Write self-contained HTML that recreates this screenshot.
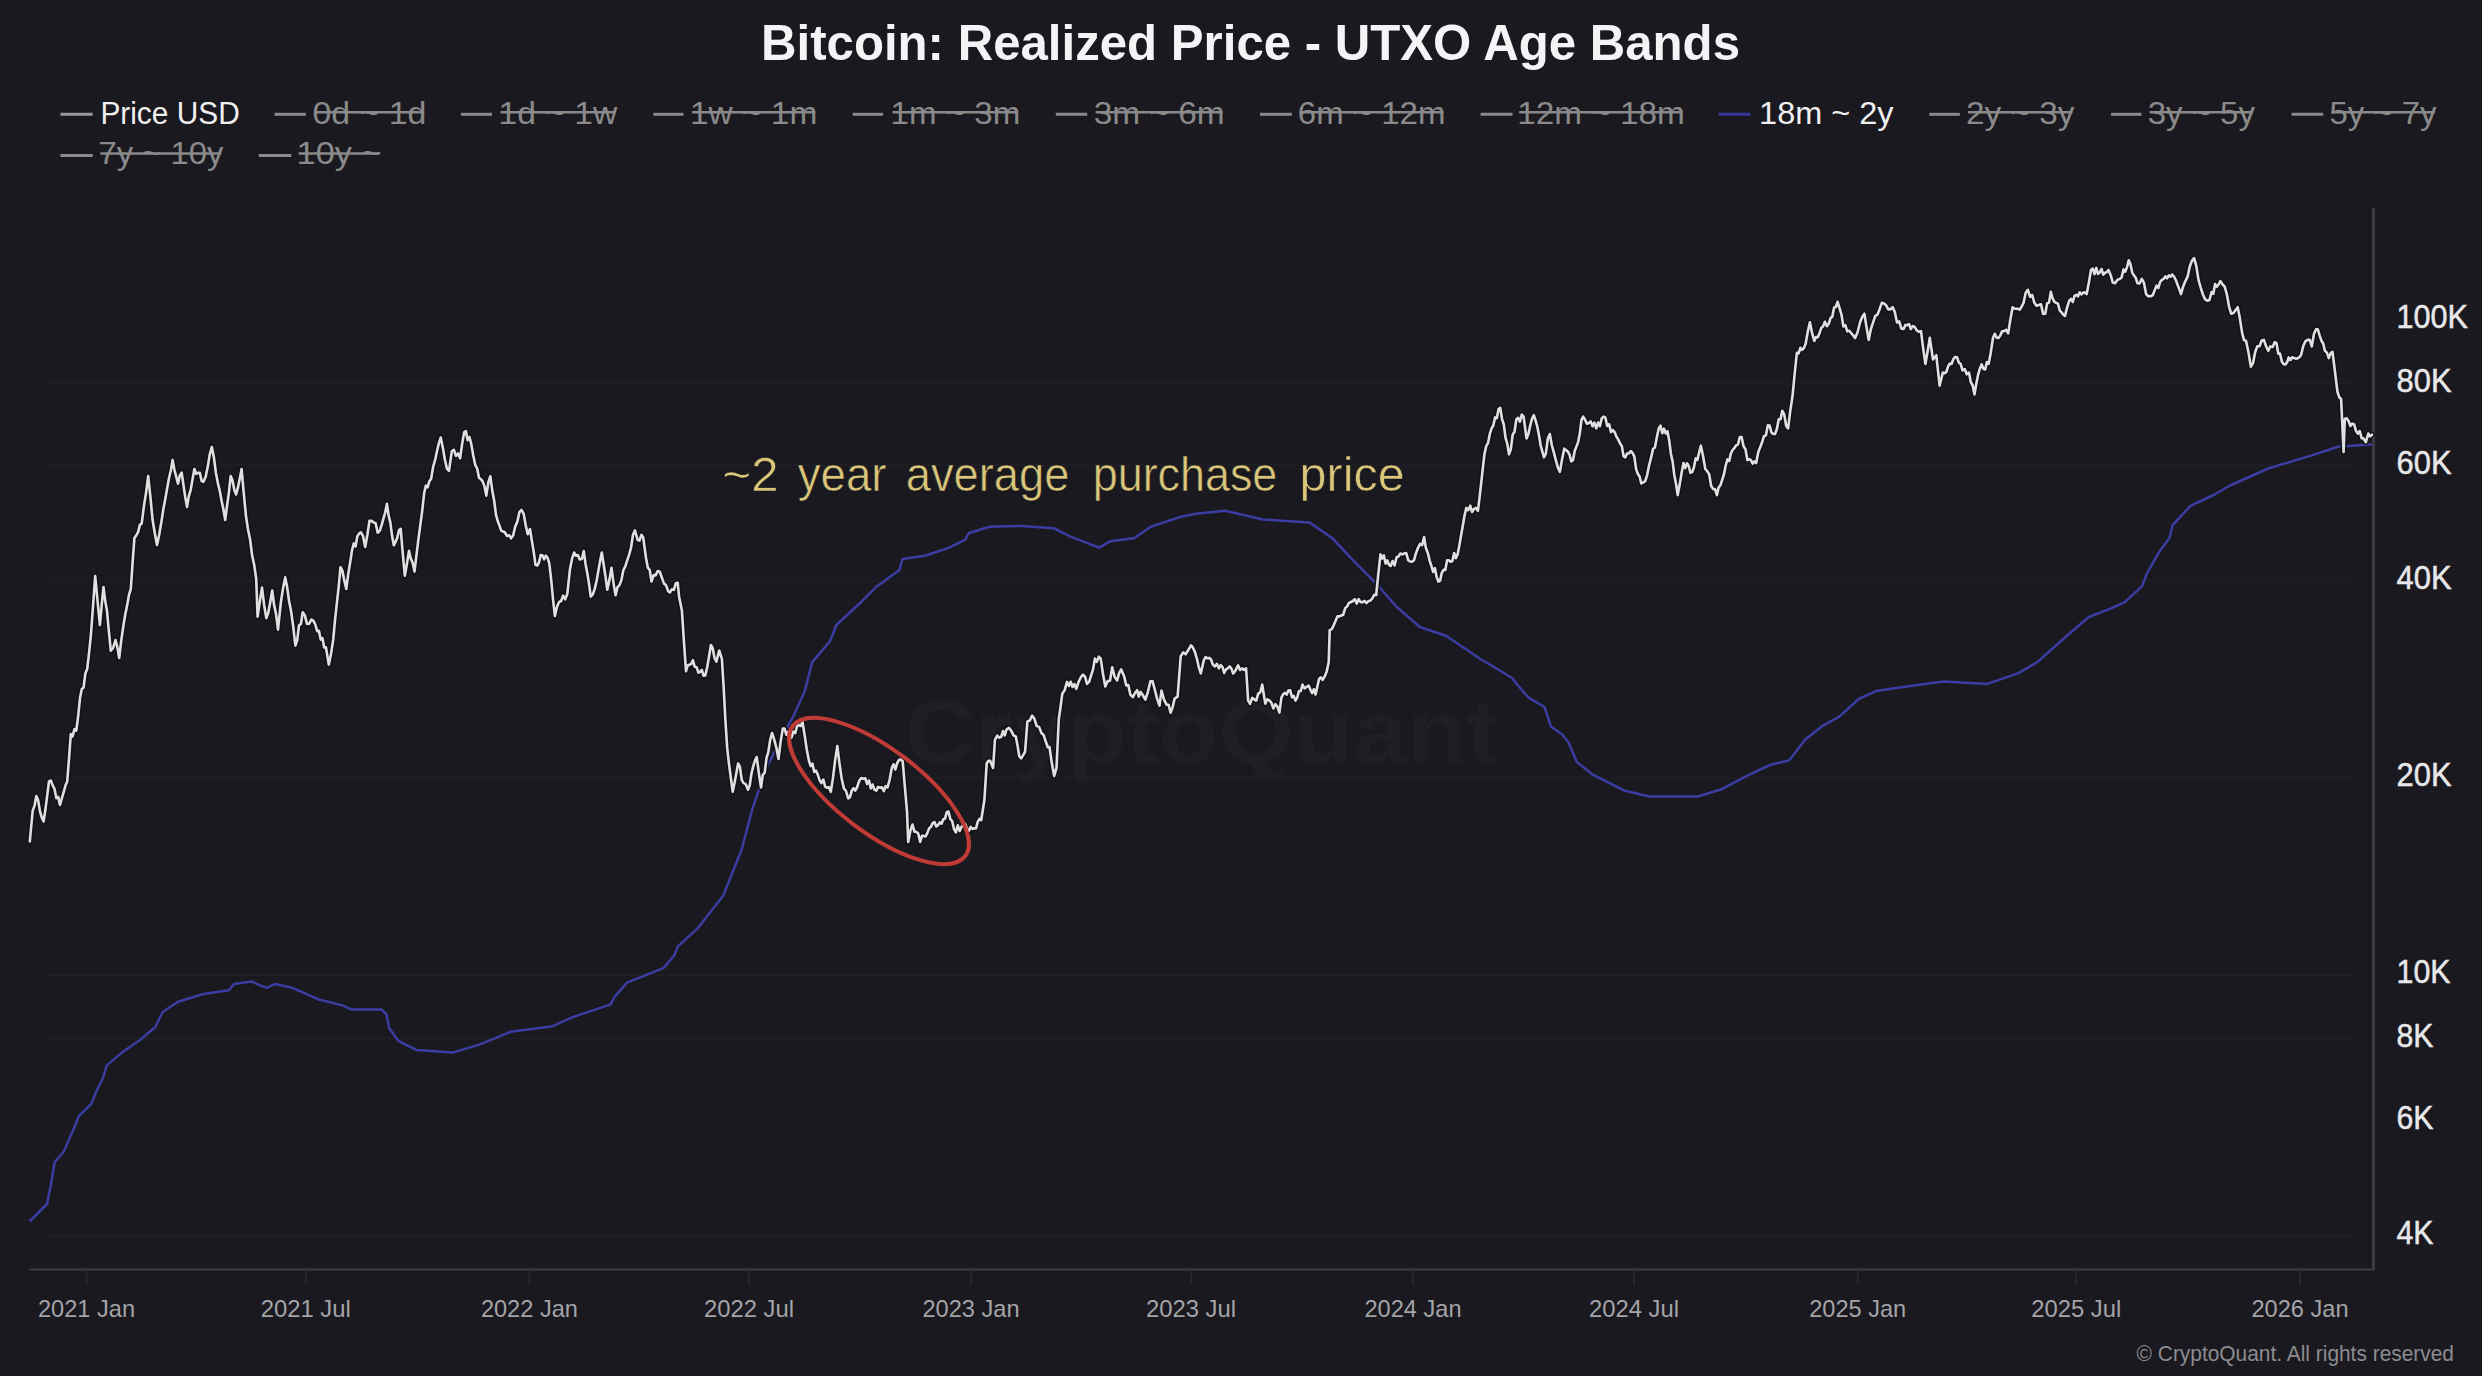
<!DOCTYPE html>
<html><head><meta charset="utf-8">
<style>
html,body{margin:0;padding:0;background:#1a191f;}
body{width:2482px;height:1376px;overflow:hidden;}
svg{display:block;}
text{font-family:"Liberation Sans",sans-serif;}
.title{font-weight:bold;font-size:50px;fill:#f4f4f6;}
.lon{font-size:31px;fill:#f0f0f0;}
.loff{font-size:31px;fill:#8a8a8a;}
.ax{font-size:24px;fill:#a4a4a8;}
.ay{font-size:34px;fill:#e8e8ea;stroke:#e8e8ea;stroke-width:0.5px;}
.ann{font-size:48px;fill:#d9c67a;stroke:#16151a;stroke-width:0.6px;}
.copy{font-size:22px;fill:#8c8c90;}
</style></head>
<body>
<svg width="2482" height="1376" viewBox="0 0 2482 1376">
<rect width="2482" height="1376" fill="#1a191f"/>
<line x1="45" y1="1235.7" x2="2352" y2="1235.7" stroke="#1f1e24" stroke-width="2"/>
<line x1="45" y1="1120.3" x2="2352" y2="1120.3" stroke="#1f1e24" stroke-width="2"/>
<line x1="45" y1="1038.5" x2="2352" y2="1038.5" stroke="#1f1e24" stroke-width="2"/>
<line x1="45" y1="975.0" x2="2352" y2="975.0" stroke="#1f1e24" stroke-width="2"/>
<line x1="45" y1="777.8" x2="2352" y2="777.8" stroke="#1f1e24" stroke-width="2"/>
<line x1="45" y1="580.7" x2="2352" y2="580.7" stroke="#1f1e24" stroke-width="2"/>
<line x1="45" y1="465.3" x2="2352" y2="465.3" stroke="#1f1e24" stroke-width="2"/>
<line x1="45" y1="383.5" x2="2352" y2="383.5" stroke="#1f1e24" stroke-width="2"/>
<line x1="45" y1="320.0" x2="2352" y2="320.0" stroke="#1f1e24" stroke-width="2"/>

<text x="905" y="763" font-size="90" font-weight="bold" fill="#1f1e24" textLength="594" lengthAdjust="spacingAndGlyphs">CryptoQuant</text>
<line x1="29" y1="1269.5" x2="2373" y2="1269.5" stroke="#3c3c42" stroke-width="2"/>
<line x1="2373.5" y1="208" x2="2373.5" y2="1270" stroke="#3c3c42" stroke-width="3"/>
<line x1="86.5" y1="1270" x2="86.5" y2="1285" stroke="#26262c" stroke-width="2"/>
<text x="38.0" y="1317" class="ax" textLength="97" lengthAdjust="spacingAndGlyphs">2021 Jan</text>
<line x1="305.8" y1="1270" x2="305.8" y2="1285" stroke="#26262c" stroke-width="2"/>
<text x="260.8" y="1317" class="ax" textLength="90" lengthAdjust="spacingAndGlyphs">2021 Jul</text>
<line x1="529.4" y1="1270" x2="529.4" y2="1285" stroke="#26262c" stroke-width="2"/>
<text x="480.9" y="1317" class="ax" textLength="97" lengthAdjust="spacingAndGlyphs">2022 Jan</text>
<line x1="749" y1="1270" x2="749" y2="1285" stroke="#26262c" stroke-width="2"/>
<text x="704.0" y="1317" class="ax" textLength="90" lengthAdjust="spacingAndGlyphs">2022 Jul</text>
<line x1="971" y1="1270" x2="971" y2="1285" stroke="#26262c" stroke-width="2"/>
<text x="922.5" y="1317" class="ax" textLength="97" lengthAdjust="spacingAndGlyphs">2023 Jan</text>
<line x1="1191" y1="1270" x2="1191" y2="1285" stroke="#26262c" stroke-width="2"/>
<text x="1146.0" y="1317" class="ax" textLength="90" lengthAdjust="spacingAndGlyphs">2023 Jul</text>
<line x1="1413" y1="1270" x2="1413" y2="1285" stroke="#26262c" stroke-width="2"/>
<text x="1364.5" y="1317" class="ax" textLength="97" lengthAdjust="spacingAndGlyphs">2024 Jan</text>
<line x1="1634" y1="1270" x2="1634" y2="1285" stroke="#26262c" stroke-width="2"/>
<text x="1589.0" y="1317" class="ax" textLength="90" lengthAdjust="spacingAndGlyphs">2024 Jul</text>
<line x1="1857.7" y1="1270" x2="1857.7" y2="1285" stroke="#26262c" stroke-width="2"/>
<text x="1809.2" y="1317" class="ax" textLength="97" lengthAdjust="spacingAndGlyphs">2025 Jan</text>
<line x1="2076.2" y1="1270" x2="2076.2" y2="1285" stroke="#26262c" stroke-width="2"/>
<text x="2031.2" y="1317" class="ax" textLength="90" lengthAdjust="spacingAndGlyphs">2025 Jul</text>
<line x1="2300" y1="1270" x2="2300" y2="1285" stroke="#26262c" stroke-width="2"/>
<text x="2251.5" y="1317" class="ax" textLength="97" lengthAdjust="spacingAndGlyphs">2026 Jan</text>

<text x="2396.5" y="328.3" class="ay" textLength="71.5" lengthAdjust="spacingAndGlyphs">100K</text>
<text x="2396.5" y="391.8" class="ay" textLength="55" lengthAdjust="spacingAndGlyphs">80K</text>
<text x="2396.5" y="473.6" class="ay" textLength="55" lengthAdjust="spacingAndGlyphs">60K</text>
<text x="2396.5" y="589.0" class="ay" textLength="55" lengthAdjust="spacingAndGlyphs">40K</text>
<text x="2396.5" y="786.1" class="ay" textLength="55" lengthAdjust="spacingAndGlyphs">20K</text>
<text x="2396.5" y="983.3" class="ay" textLength="54" lengthAdjust="spacingAndGlyphs">10K</text>
<text x="2396.5" y="1046.8" class="ay" textLength="37" lengthAdjust="spacingAndGlyphs">8K</text>
<text x="2396.5" y="1128.6" class="ay" textLength="37" lengthAdjust="spacingAndGlyphs">6K</text>
<text x="2396.5" y="1244.0" class="ay" textLength="37" lengthAdjust="spacingAndGlyphs">4K</text>

<text x="761" y="59.5" class="title" textLength="979" lengthAdjust="spacingAndGlyphs">Bitcoin: Realized Price - UTXO Age Bands</text>
<line x1="60.5" y1="114.3" x2="92.7" y2="114.3" stroke="#9a9a9a" stroke-width="3"/>
<text x="100.4" y="123.5" class="lon" textLength="139.3" lengthAdjust="spacingAndGlyphs">Price USD</text>
<line x1="274.5" y1="114.3" x2="305.9" y2="114.3" stroke="#8a8a8a" stroke-width="3"/>
<text x="312.4" y="123.5" class="loff" textLength="113.9" lengthAdjust="spacingAndGlyphs">0d ~ 1d</text>
<line x1="314.4" y1="112.3" x2="424.3" y2="112.3" stroke="#8a8a8a" stroke-width="2.5"/>
<line x1="461" y1="114.3" x2="492" y2="114.3" stroke="#8a8a8a" stroke-width="3"/>
<text x="498.5" y="123.5" class="loff" textLength="118.8" lengthAdjust="spacingAndGlyphs">1d ~ 1w</text>
<line x1="500.5" y1="112.3" x2="615.3" y2="112.3" stroke="#8a8a8a" stroke-width="2.5"/>
<line x1="653.3" y1="114.3" x2="683.5" y2="114.3" stroke="#8a8a8a" stroke-width="3"/>
<text x="690.0" y="123.5" class="loff" textLength="127.3" lengthAdjust="spacingAndGlyphs">1w ~ 1m</text>
<line x1="692" y1="112.3" x2="815.3" y2="112.3" stroke="#8a8a8a" stroke-width="2.5"/>
<line x1="852.7" y1="114.3" x2="883" y2="114.3" stroke="#8a8a8a" stroke-width="3"/>
<text x="890.6" y="123.5" class="loff" textLength="129.7" lengthAdjust="spacingAndGlyphs">1m ~ 3m</text>
<line x1="892.6" y1="112.3" x2="1018.3" y2="112.3" stroke="#8a8a8a" stroke-width="2.5"/>
<line x1="1055.8" y1="114.3" x2="1087.2" y2="114.3" stroke="#8a8a8a" stroke-width="3"/>
<text x="1093.7" y="123.5" class="loff" textLength="130.9" lengthAdjust="spacingAndGlyphs">3m ~ 6m</text>
<line x1="1095.7" y1="112.3" x2="1222.6" y2="112.3" stroke="#8a8a8a" stroke-width="2.5"/>
<line x1="1260" y1="114.3" x2="1291.8" y2="114.3" stroke="#8a8a8a" stroke-width="3"/>
<text x="1297.8" y="123.5" class="loff" textLength="147.6" lengthAdjust="spacingAndGlyphs">6m ~ 12m</text>
<line x1="1299.8" y1="112.3" x2="1443.4" y2="112.3" stroke="#8a8a8a" stroke-width="2.5"/>
<line x1="1480.6" y1="114.3" x2="1512.5" y2="114.3" stroke="#8a8a8a" stroke-width="3"/>
<text x="1517.2" y="123.5" class="loff" textLength="167.5" lengthAdjust="spacingAndGlyphs">12m ~ 18m</text>
<line x1="1519.2" y1="112.3" x2="1682.7" y2="112.3" stroke="#8a8a8a" stroke-width="2.5"/>
<line x1="1718.6" y1="114.3" x2="1750.5" y2="114.3" stroke="#36379c" stroke-width="3"/>
<text x="1759.1" y="123.5" class="lon" textLength="134.3" lengthAdjust="spacingAndGlyphs">18m ~ 2y</text>
<line x1="1929.3" y1="114.3" x2="1959.8" y2="114.3" stroke="#8a8a8a" stroke-width="3"/>
<text x="1966.0" y="123.5" class="loff" textLength="108.3" lengthAdjust="spacingAndGlyphs">2y ~ 3y</text>
<line x1="1968" y1="112.3" x2="2072.3" y2="112.3" stroke="#8a8a8a" stroke-width="2.5"/>
<line x1="2111" y1="114.3" x2="2141.5" y2="114.3" stroke="#8a8a8a" stroke-width="3"/>
<text x="2147.7" y="123.5" class="loff" textLength="107.2" lengthAdjust="spacingAndGlyphs">3y ~ 5y</text>
<line x1="2149.7" y1="112.3" x2="2252.9" y2="112.3" stroke="#8a8a8a" stroke-width="2.5"/>
<line x1="2291.6" y1="114.3" x2="2323.2" y2="114.3" stroke="#8a8a8a" stroke-width="3"/>
<text x="2329.4" y="123.5" class="loff" textLength="107.2" lengthAdjust="spacingAndGlyphs">5y ~ 7y</text>
<line x1="2331.4" y1="112.3" x2="2434.6" y2="112.3" stroke="#8a8a8a" stroke-width="2.5"/>
<line x1="60.5" y1="155.5" x2="92.7" y2="155.5" stroke="#8a8a8a" stroke-width="3"/>
<text x="98.4" y="163.5" class="loff" textLength="124.9" lengthAdjust="spacingAndGlyphs">7y ~ 10y</text>
<line x1="100.4" y1="153.5" x2="221.3" y2="153.5" stroke="#8a8a8a" stroke-width="2.5"/>
<line x1="258.8" y1="155.5" x2="291.4" y2="155.5" stroke="#8a8a8a" stroke-width="3"/>
<text x="296.6" y="163.5" class="loff" textLength="85.0" lengthAdjust="spacingAndGlyphs">10y ~</text>
<line x1="298.6" y1="153.5" x2="379.6" y2="153.5" stroke="#8a8a8a" stroke-width="2.5"/>

<path d="M30.5,1220.5 L47.0,1204.0 L50.9,1185.0 L54.7,1162.0 L63.6,1151.8 L73.7,1129.0 L78.8,1116.2 L91.5,1103.5 L96.6,1090.8 L103.0,1078.0 L106.8,1065.4 L122.0,1052.6 L139.9,1040.0 L155.1,1027.2 L162.7,1012.0 L178.0,1001.8 L203.4,994.0 L228.9,990.3 L234.0,984.0 L251.7,981.4 L256.8,984.0 L267.0,987.8 L274.6,984.0 L292.4,987.8 L317.9,999.2 L343.3,1005.6 L350.9,1009.4 L381.4,1009.4 L386.5,1014.5 L389.1,1028.0 L398.2,1040.8 L416.3,1049.9 L452.7,1052.6 L479.9,1044.4 L510.8,1031.7 L552.6,1026.2 L572.6,1017.2 L610.7,1004.4 L614.3,997.2 L627.0,982.6 L663.4,968.1 L674.3,955.4 L677.9,946.3 L697.9,928.1 L723.3,895.4 L741.5,850.0 L752.3,809.3 L765.4,770.0 L782.8,735.2 L793.7,715.5 L804.6,691.6 L812.2,662.1 L830.0,641.2 L836.4,625.0 L860.6,602.5 L876.7,586.4 L899.3,570.2 L902.5,559.0 L925.0,555.7 L949.2,547.7 L965.3,539.6 L968.6,533.2 L989.5,526.7 L1021.7,525.9 L1054.0,528.3 L1070.0,536.4 L1099.1,547.7 L1110.4,541.2 L1134.6,538.0 L1150.7,526.7 L1180.0,517.0 L1196.0,513.7 L1225.0,510.8 L1262.8,519.5 L1309.3,522.4 L1332.6,538.4 L1352.9,560.2 L1376.2,583.5 L1396.5,606.7 L1419.8,627.0 L1446.0,635.8 L1480.0,658.7 L1496.1,668.3 L1512.2,678.0 L1517.1,684.5 L1528.3,697.4 L1544.5,707.0 L1547.7,716.7 L1550.9,726.4 L1562.2,734.4 L1568.6,742.5 L1576.7,761.8 L1592.8,774.7 L1625.0,790.8 L1649.2,796.5 L1697.6,796.5 L1721.7,789.2 L1745.9,776.3 L1770.0,765.0 L1789.4,760.2 L1805.5,739.3 L1821.7,726.4 L1839.4,716.7 L1858.7,699.0 L1876.1,691.1 L1908.3,686.3 L1943.8,681.4 L1987.3,683.9 L2017.9,673.4 L2037.3,662.1 L2066.3,636.3 L2088.8,617.0 L2109.8,608.9 L2124.3,602.5 L2142.0,586.4 L2146.9,573.5 L2159.8,550.9 L2169.4,538.0 L2172.7,525.1 L2190.4,505.8 L2214.6,494.5 L2229.0,486.0 L2268.2,468.5 L2311.8,455.4 L2338.0,446.7 L2370.7,444.5" fill="none" stroke="#3b3da2" stroke-width="2.5" stroke-linejoin="round" stroke-linecap="round"/>
<path d="M29.8,841.5 L32.7,810.6 L34.5,805.9 L36.3,796.0 L38.1,800.1 L40.0,811.4 L41.8,817.6 L43.6,821.5 L45.4,809.8 L47.2,795.7 L49.0,781.5 L50.8,780.5 L52.7,785.4 L54.5,788.8 L56.3,798.1 L58.2,796.8 L60.0,805.0 L61.8,798.3 L63.6,792.3 L65.4,785.8 L67.2,781.5 L69.0,758.9 L70.8,734.0 L72.6,736.4 L74.5,729.0 L76.3,730.7 L78.2,715.8 L80.0,698.0 L81.8,689.1 L83.6,687.5 L85.4,673.2 L87.2,669.0 L89.0,653.3 L90.8,636.0 L93.0,606.5 L95.2,576.0 L97.6,601.5 L99.9,625.0 L101.7,605.0 L103.5,587.0 L105.2,600.8 L107.0,611.0 L108.9,631.6 L110.8,650.7 L113.2,647.7 L115.5,640.0 L117.3,646.9 L119.2,658.0 L121.3,640.1 L123.5,625.0 L125.3,614.3 L127.2,605.1 L129.0,594.8 L130.8,589.0 L132.6,562.7 L134.4,538.0 L136.2,535.4 L138.1,532.1 L139.9,524.9 L141.7,523.5 L143.9,506.1 L146.0,493.3 L148.2,476.0 L150.4,496.9 L152.6,520.0 L154.8,533.3 L157.0,545.0 L159.3,534.2 L161.7,520.0 L163.5,508.2 L165.3,499.0 L167.1,488.6 L169.0,478.0 L170.8,470.8 L172.6,460.0 L174.4,469.7 L176.2,476.8 L178.0,483.6 L179.8,475.5 L181.7,472.7 L183.5,485.5 L185.2,496.7 L187.0,507.0 L188.8,496.3 L190.7,489.8 L192.6,479.1 L194.4,469.0 L196.2,473.7 L198.0,472.9 L199.8,472.7 L201.7,481.1 L203.5,481.8 L205.6,476.9 L207.7,467.1 L209.7,454.6 L211.8,447.0 L213.9,457.3 L215.9,472.9 L218.0,483.6 L219.8,491.0 L221.6,500.9 L223.4,509.3 L225.2,520.0 L227.0,506.1 L228.9,492.4 L230.7,476.0 L232.5,480.5 L234.3,489.8 L236.1,494.5 L237.9,487.7 L239.8,478.5 L241.6,469.0 L243.8,493.6 L246.0,516.3 L248.0,529.4 L250.1,539.5 L252.1,555.3 L254.2,565.0 L256.2,578.8 L257.6,616.6 L259.8,601.6 L262.0,587.6 L264.1,604.7 L266.3,618.1 L268.3,612.8 L270.2,602.5 L272.2,590.5 L274.1,605.1 L276.1,614.6 L278.0,629.7 L280.9,602.1 L283.0,588.5 L285.2,577.4 L287.1,586.7 L289.1,601.2 L291.0,610.8 L293.2,626.4 L295.4,645.7 L297.2,640.3 L299.0,625.4 L300.9,624.0 L302.7,612.3 L304.9,615.5 L307.0,623.9 L309.2,623.7 L311.4,619.5 L313.3,620.7 L315.3,624.5 L317.2,631.2 L318.9,630.8 L320.7,639.6 L322.4,638.1 L324.2,647.5 L325.9,647.2 L328.8,664.6 L331.0,653.9 L333.2,639.9 L335.0,620.4 L336.9,602.8 L338.7,586.6 L340.5,567.2 L342.4,570.7 L344.4,580.9 L346.3,589.0 L348.2,574.4 L350.2,562.2 L352.1,549.8 L353.8,543.4 L355.6,546.5 L357.3,536.4 L359.1,533.6 L360.8,532.3 L363.0,535.9 L365.2,546.9 L367.4,534.8 L369.5,520.7 L371.5,520.9 L373.6,522.4 L375.6,523.3 L377.7,532.7 L379.7,530.9 L380.0,530.1 L381.7,524.9 L383.4,518.7 L385.2,512.6 L386.9,503.9 L388.6,515.4 L390.4,522.9 L392.1,536.1 L393.8,545.3 L395.5,542.1 L397.2,538.0 L399.0,530.3 L400.7,528.8 L402.8,553.9 L404.8,575.7 L406.9,563.9 L409.0,550.8 L410.8,558.6 L412.7,563.1 L414.5,571.6 L416.3,556.4 L418.2,541.0 L420.0,527.4 L422.1,511.6 L424.2,492.9 L425.9,485.6 L427.6,487.4 L429.4,481.1 L431.1,479.0 L433.1,467.0 L435.2,459.7 L437.0,451.0 L438.9,443.1 L440.7,437.6 L442.8,447.4 L444.9,459.7 L446.9,468.5 L449.0,470.8 L451.8,451.4 L453.9,449.8 L456.0,455.9 L458.0,453.5 L460.1,458.3 L462.1,444.1 L464.2,432.1 L465.9,431.1 L467.6,440.2 L469.4,437.0 L471.1,443.1 L473.2,455.3 L475.3,465.2 L477.1,468.3 L479.0,477.8 L480.8,479.0 L482.6,481.4 L484.5,486.4 L486.3,495.6 L488.4,482.0 L490.4,476.3 L492.3,490.8 L494.1,500.2 L496.0,514.9 L497.7,521.0 L499.4,525.4 L501.2,530.6 L502.9,531.5 L504.9,532.3 L507.0,536.0 L509.1,535.3 L511.1,538.4 L513.2,535.2 L515.2,526.6 L517.3,521.9 L519.4,512.2 L521.5,509.9 L523.6,513.6 L525.7,525.1 L527.7,534.3 L530.0,529.0 L531.8,540.4 L533.7,551.7 L535.5,564.9 L537.2,565.6 L539.0,562.5 L540.7,555.0 L542.4,555.2 L544.1,559.3 L545.8,555.7 L547.6,557.9 L549.3,563.5 L551.2,579.8 L553.0,599.2 L554.9,616.0 L557.0,606.7 L559.0,602.2 L561.1,601.0 L563.1,595.6 L565.2,599.3 L567.3,593.9 L570.0,569.0 L572.1,558.4 L574.2,552.5 L576.0,555.8 L577.9,555.0 L579.7,559.4 L581.8,559.0 L583.8,551.1 L585.5,563.7 L587.2,572.8 L589.0,583.5 L590.7,596.7 L592.8,594.4 L594.9,588.4 L596.6,580.8 L598.3,571.1 L600.1,561.0 L601.8,552.5 L603.6,564.2 L605.5,576.5 L607.3,589.8 L609.4,580.1 L611.5,567.7 L613.5,583.1 L615.6,595.3 L617.5,587.1 L619.5,585.1 L621.4,580.1 L623.4,570.0 L625.3,566.3 L627.2,560.4 L629.1,554.8 L631.1,547.3 L633.0,534.8 L634.9,530.4 L637.7,540.0 L639.5,540.6 L641.4,534.8 L643.2,537.3 L646.0,558.0 L647.8,567.6 L649.7,569.9 L651.5,581.5 L653.6,575.1 L655.6,575.4 L657.7,571.1 L659.8,571.8 L661.9,577.7 L664.0,583.6 L666.0,585.1 L668.1,591.1 L670.0,592.4 L671.9,589.2 L673.9,589.8 L675.8,583.3 L677.7,582.8 L679.1,596.7 L681.9,610.5 L684.0,642.5 L686.0,671.2 L687.7,665.5 L689.5,664.7 L691.2,663.9 L692.9,660.2 L694.7,666.8 L696.6,667.2 L698.4,672.6 L700.1,671.8 L701.8,670.0 L703.6,675.8 L705.3,675.4 L707.2,667.2 L709.0,656.8 L710.9,645.0 L712.7,648.2 L714.6,658.2 L716.4,661.6 L719.2,650.5 L721.9,658.8 L723.7,688.2 L725.4,720.2 L727.2,748.2 L729.0,763.9 L730.9,778.3 L732.7,791.8 L734.5,783.0 L736.3,773.4 L738.1,763.5 L739.9,766.6 L741.8,780.1 L743.6,783.0 L745.8,784.3 L748.0,789.7 L749.7,785.6 L751.5,773.2 L753.2,766.4 L755.0,760.3 L756.7,757.0 L758.9,773.3 L761.0,787.5 L762.8,774.8 L764.7,772.6 L766.5,758.2 L768.3,752.2 L770.2,739.8 L772.0,733.0 L774.2,739.7 L776.3,747.5 L778.5,759.0 L780.6,741.9 L782.8,728.6 L784.6,728.5 L786.3,734.7 L788.1,731.8 L789.8,738.4 L791.6,737.3 L793.4,731.5 L795.2,733.1 L797.0,726.5 L798.9,725.0 L800.7,726.0 L802.5,722.0 L804.7,735.6 L806.8,749.8 L809.0,761.0 L810.7,766.1 L812.5,763.7 L814.2,771.9 L816.0,770.7 L817.7,774.4 L819.6,780.1 L821.4,783.1 L823.3,779.5 L825.2,786.7 L827.1,787.8 L828.9,787.2 L830.8,791.8 L833.0,777.9 L835.1,760.4 L837.3,746.0 L839.5,763.7 L841.7,778.8 L843.9,788.4 L846.0,791.0 L848.2,798.4 L850.0,797.2 L851.7,790.8 L853.5,788.2 L855.2,790.6 L857.0,787.5 L859.2,780.8 L861.3,778.0 L863.5,778.8 L865.3,778.3 L867.1,784.0 L869.0,780.5 L870.8,788.4 L872.6,784.5 L874.4,789.7 L876.3,790.6 L878.1,786.8 L880.0,787.8 L881.9,787.2 L883.8,791.1 L885.6,786.2 L887.5,787.5 L889.6,779.8 L891.8,767.9 L893.6,764.3 L895.4,769.5 L897.2,763.0 L899.1,759.8 L900.9,759.6 L902.7,761.3 L904.9,787.2 L907.0,811.5 L908.2,842.0 L910.4,830.6 L912.5,824.5 L914.4,831.7 L916.4,831.8 L918.3,833.7 L920.2,842.0 L922.0,835.8 L923.8,835.9 L925.6,836.5 L927.4,832.9 L929.2,828.2 L931.0,826.7 L932.8,822.9 L934.5,822.2 L936.3,826.5 L938.0,825.2 L939.8,822.4 L941.5,823.7 L943.3,819.2 L945.0,818.7 L946.8,812.2 L948.5,811.5 L950.3,819.0 L952.2,821.2 L954.0,829.0 L955.9,832.4 L957.8,825.3 L959.7,831.0 L961.6,826.7 L963.4,825.1 L965.2,823.9 L967.0,828.9 L968.9,830.6 L970.7,826.9 L972.5,829.0 L974.2,828.3 L976.0,828.4 L977.7,821.9 L979.5,818.9 L981.2,820.2 L984.4,800.0 L986.7,763.3 L988.5,760.8 L990.2,760.9 L993.1,767.9 L994.9,740.0 L997.2,735.7 L999.5,737.7 L1001.2,736.8 L1003.0,731.0 L1004.8,735.4 L1006.5,729.5 L1008.9,727.9 L1011.2,730.7 L1013.5,735.4 L1015.8,736.5 L1017.5,745.4 L1019.3,756.3 L1021.2,758.4 L1023.2,755.1 L1025.1,751.6 L1027.4,721.4 L1029.8,720.5 L1032.1,715.6 L1034.4,718.8 L1036.7,726.0 L1039.1,726.9 L1041.4,733.0 L1043.7,735.1 L1046.0,742.3 L1047.8,747.3 L1049.5,747.0 L1051.8,763.1 L1054.2,776.0 L1056.5,767.9 L1058.8,719.1 L1060.5,707.2 L1062.3,693.5 L1064.7,690.2 L1067.0,681.9 L1068.9,685.9 L1070.7,681.8 L1072.6,687.0 L1074.4,684.1 L1076.3,688.8 L1078.6,681.9 L1080.9,677.2 L1083.0,674.7 L1085.0,676.7 L1087.0,683.9 L1089.1,681.9 L1091.0,675.7 L1093.0,669.6 L1094.9,658.6 L1096.8,661.8 L1098.8,656.7 L1100.7,658.6 L1103.0,674.0 L1105.3,686.5 L1107.7,681.1 L1110.0,680.7 L1112.2,667.3 L1114.7,676.9 L1117.2,680.4 L1119.2,672.8 L1121.2,669.4 L1124.2,676.4 L1126.2,685.4 L1128.3,685.1 L1130.3,694.5 L1132.8,697.1 L1135.3,692.5 L1137.1,690.2 L1138.8,696.6 L1140.6,691.9 L1142.4,694.5 L1145.4,699.6 L1147.9,691.8 L1150.4,681.4 L1152.5,681.0 L1154.5,688.5 L1157.0,698.4 L1159.5,705.6 L1161.5,690.5 L1164.0,699.7 L1166.6,704.6 L1168.6,704.7 L1170.6,712.7 L1172.6,707.4 L1174.6,698.6 L1177.6,696.6 L1180.7,656.3 L1183.2,652.4 L1185.7,654.3 L1187.5,651.2 L1189.2,648.5 L1191.0,645.3 L1192.7,647.2 L1194.8,651.6 L1196.8,658.3 L1198.8,667.3 L1200.8,673.4 L1203.8,660.3 L1205.6,657.0 L1207.3,658.3 L1209.1,657.9 L1210.9,659.3 L1212.9,664.8 L1214.9,666.4 L1216.9,663.8 L1218.9,668.4 L1220.7,665.0 L1222.5,667.0 L1224.2,673.0 L1226.0,669.4 L1227.8,668.3 L1229.6,666.4 L1231.4,668.6 L1233.2,673.5 L1235.0,671.4 L1238.1,665.3 L1240.1,670.0 L1242.1,668.4 L1244.1,669.9 L1246.1,668.4 L1248.1,700.6 L1250.1,703.9 L1252.2,697.9 L1254.2,699.3 L1256.2,700.6 L1258.2,693.6 L1260.2,692.3 L1262.2,684.5 L1265.3,703.6 L1267.3,699.3 L1269.3,700.4 L1271.3,702.6 L1273.3,708.4 L1275.3,704.2 L1277.4,706.7 L1279.4,712.7 L1281.4,697.6 L1283.2,694.2 L1284.9,692.9 L1286.7,694.6 L1288.4,690.5 L1290.2,690.3 L1292.0,697.3 L1293.7,695.9 L1295.5,700.6 L1297.2,697.7 L1299.0,691.1 L1300.8,691.0 L1302.5,684.5 L1304.5,688.3 L1306.6,687.0 L1308.6,685.5 L1310.3,689.5 L1312.1,693.1 L1313.8,689.3 L1315.6,694.5 L1317.3,686.7 L1319.0,679.2 L1320.7,677.4 L1322.7,679.8 L1324.7,676.4 L1326.7,671.4 L1328.7,662.3 L1329.7,630.1 L1331.8,629.1 L1333.8,625.0 L1335.7,620.4 L1337.5,616.3 L1339.4,616.4 L1341.3,615.5 L1343.2,614.8 L1345.2,608.1 L1347.1,606.4 L1349.0,602.9 L1351.0,602.0 L1352.9,601.0 L1354.8,599.1 L1356.8,603.6 L1358.7,599.1 L1360.6,602.1 L1362.6,602.1 L1364.5,601.0 L1366.5,603.1 L1368.4,601.1 L1370.3,600.7 L1372.3,598.5 L1374.2,594.8 L1376.2,595.0 L1378.3,574.2 L1380.5,554.4 L1382.2,558.5 L1383.9,555.4 L1385.6,563.6 L1387.3,560.3 L1389.0,564.9 L1390.7,566.0 L1392.6,561.0 L1394.6,565.5 L1396.5,557.5 L1398.4,556.4 L1400.4,553.5 L1402.3,554.4 L1404.2,553.4 L1406.2,553.0 L1408.2,560.1 L1410.1,561.5 L1412.0,561.8 L1414.0,560.2 L1416.0,553.2 L1418.0,547.8 L1420.1,543.8 L1422.1,545.1 L1424.1,537.0 L1425.9,548.1 L1427.8,552.9 L1429.6,560.3 L1431.4,566.0 L1433.1,572.0 L1434.9,568.1 L1436.6,577.0 L1438.4,581.6 L1440.1,580.6 L1441.8,572.8 L1443.6,569.8 L1445.3,570.0 L1447.1,560.3 L1448.8,560.2 L1450.6,561.8 L1452.3,561.3 L1454.1,553.0 L1455.8,558.2 L1457.6,554.4 L1459.3,545.8 L1461.1,535.3 L1462.8,525.8 L1464.6,515.3 L1466.3,507.9 L1468.2,510.2 L1470.2,505.7 L1472.1,512.0 L1474.0,509.0 L1476.0,508.0 L1477.9,510.8 L1480.1,493.0 L1482.2,473.9 L1484.4,454.4 L1486.2,446.2 L1488.0,443.2 L1489.8,433.9 L1491.6,428.3 L1493.3,425.5 L1495.1,417.4 L1496.8,418.2 L1498.6,409.0 L1500.3,407.9 L1502.0,418.8 L1503.8,424.5 L1505.5,437.6 L1507.3,444.0 L1509.0,454.4 L1510.8,449.4 L1512.7,434.5 L1514.5,431.9 L1516.3,419.5 L1518.1,417.8 L1519.9,421.7 L1521.8,414.6 L1523.6,416.6 L1526.5,438.4 L1528.3,434.4 L1530.2,425.8 L1532.0,418.8 L1533.8,415.2 L1535.5,420.1 L1537.2,426.2 L1538.9,434.7 L1540.6,445.3 L1542.3,451.3 L1544.0,457.3 L1545.9,453.4 L1547.9,438.2 L1549.8,434.0 L1551.8,445.0 L1553.8,452.3 L1555.9,460.4 L1557.9,467.7 L1559.9,471.9 L1562.1,459.0 L1564.3,448.6 L1566.0,450.1 L1567.8,451.5 L1569.5,454.6 L1571.3,461.3 L1573.0,460.2 L1574.7,451.0 L1576.4,446.6 L1578.1,442.1 L1579.8,433.5 L1581.5,419.9 L1583.2,416.6 L1585.1,419.7 L1586.9,423.7 L1588.8,423.0 L1590.7,421.4 L1592.6,426.3 L1594.4,422.6 L1596.3,428.3 L1598.1,422.6 L1599.9,426.1 L1601.7,418.4 L1603.5,416.6 L1605.4,417.7 L1607.2,426.0 L1609.1,424.1 L1611.0,432.1 L1612.9,430.1 L1614.7,432.3 L1616.6,437.0 L1618.3,439.6 L1620.1,443.6 L1621.8,445.9 L1623.6,456.2 L1625.3,457.3 L1627.1,453.5 L1628.9,453.4 L1630.8,451.1 L1632.6,453.0 L1634.3,456.3 L1636.1,469.1 L1637.8,473.8 L1639.6,476.5 L1641.3,483.5 L1643.3,482.3 L1645.2,481.1 L1647.2,474.8 L1649.1,465.3 L1651.1,457.7 L1653.0,449.0 L1654.9,447.5 L1656.9,437.0 L1658.8,428.3 L1660.5,425.7 L1662.3,433.2 L1664.0,428.7 L1665.8,433.5 L1667.5,431.2 L1669.2,440.4 L1670.9,453.7 L1672.6,461.4 L1674.3,475.0 L1676.0,483.8 L1677.7,495.1 L1679.6,485.1 L1681.6,473.0 L1683.5,463.1 L1685.2,468.1 L1687.0,463.3 L1688.7,466.0 L1690.5,472.8 L1692.2,471.9 L1693.9,467.6 L1695.7,458.3 L1697.4,459.8 L1699.2,452.2 L1700.9,445.7 L1703.1,456.2 L1705.3,469.0 L1707.2,471.1 L1709.2,474.3 L1711.1,485.8 L1713.0,488.9 L1715.0,489.2 L1716.9,495.1 L1718.6,487.5 L1720.4,485.3 L1722.1,480.1 L1723.9,474.5 L1725.6,466.0 L1727.4,459.4 L1729.2,461.2 L1730.9,453.3 L1732.7,449.8 L1734.5,447.8 L1736.3,445.2 L1738.0,444.4 L1739.8,437.0 L1741.6,437.0 L1743.5,446.0 L1745.5,449.3 L1747.4,460.2 L1749.2,459.2 L1750.9,460.1 L1752.7,463.7 L1754.4,461.5 L1756.2,463.1 L1758.1,452.8 L1760.1,447.4 L1762.0,442.6 L1763.9,436.3 L1765.9,435.4 L1767.8,425.3 L1769.6,425.6 L1771.4,432.4 L1773.2,433.9 L1775.0,434.0 L1776.8,429.2 L1778.7,419.4 L1780.5,419.3 L1782.3,410.8 L1784.2,414.4 L1786.2,426.0 L1788.1,428.3 L1790.3,410.6 L1792.5,396.3 L1794.7,373.5 L1796.9,352.7 L1798.6,353.5 L1800.4,347.8 L1802.1,349.8 L1803.9,348.0 L1805.6,344.0 L1807.8,331.6 L1809.9,322.2 L1812.1,333.1 L1814.3,341.0 L1816.0,337.1 L1817.8,337.2 L1819.5,333.2 L1821.3,327.8 L1823.0,326.5 L1824.9,321.8 L1826.9,326.2 L1828.8,323.6 L1830.6,317.9 L1832.3,316.8 L1834.1,307.4 L1835.8,307.0 L1837.6,301.8 L1839.5,308.0 L1841.5,314.6 L1843.4,326.5 L1845.3,325.2 L1847.3,331.3 L1849.2,330.7 L1851.1,333.0 L1853.1,335.3 L1855.0,338.1 L1857.5,332.5 L1860.0,322.5 L1862.2,316.9 L1864.4,313.7 L1866.6,327.6 L1868.7,339.9 L1870.9,329.0 L1873.1,322.4 L1875.3,315.9 L1877.5,314.6 L1879.6,309.2 L1881.8,302.8 L1884.0,303.5 L1886.1,305.3 L1888.3,309.4 L1890.5,309.2 L1892.7,307.2 L1894.8,312.0 L1897.0,322.5 L1899.2,321.3 L1901.4,328.6 L1903.6,329.0 L1905.4,324.9 L1907.2,325.3 L1909.0,324.0 L1910.9,329.1 L1912.7,326.1 L1914.5,326.8 L1916.7,330.3 L1918.8,331.8 L1921.0,331.2 L1923.2,348.7 L1925.4,363.9 L1927.6,351.5 L1929.8,337.7 L1933.0,359.5 L1936.3,355.2 L1939.6,385.7 L1942.8,372.6 L1944.6,373.2 L1946.3,372.0 L1948.1,366.3 L1949.8,363.5 L1951.6,363.9 L1953.4,359.0 L1955.2,356.9 L1957.0,357.3 L1958.8,362.5 L1960.7,364.1 L1962.5,370.4 L1964.7,369.0 L1966.8,374.3 L1969.0,372.6 L1970.8,382.2 L1972.7,385.5 L1974.5,394.4 L1976.3,383.8 L1978.2,374.3 L1980.0,368.2 L1981.7,364.4 L1983.4,368.8 L1985.2,369.5 L1986.9,362.1 L1988.6,363.9 L1990.8,352.4 L1993.0,337.7 L1994.8,333.8 L1996.6,337.7 L1998.5,337.9 L2000.3,335.4 L2002.1,331.4 L2003.9,331.2 L2006.1,329.9 L2008.2,333.4 L2010.4,319.3 L2012.6,307.2 L2014.3,308.5 L2016.1,308.7 L2017.8,308.8 L2019.6,309.7 L2021.3,307.2 L2023.5,303.0 L2025.7,292.7 L2027.9,289.8 L2030.1,296.9 L2032.2,295.0 L2034.4,302.8 L2036.6,305.8 L2038.8,305.0 L2041.0,304.3 L2043.1,313.9 L2045.3,313.7 L2047.1,303.4 L2049.0,302.6 L2050.8,291.9 L2052.6,298.3 L2054.4,301.8 L2056.2,302.8 L2058.0,303.7 L2059.7,310.5 L2061.5,312.3 L2063.2,314.6 L2065.0,315.9 L2067.2,307.1 L2069.3,300.7 L2071.0,298.8 L2072.8,302.0 L2074.5,295.8 L2076.3,294.8 L2078.0,296.3 L2079.7,292.3 L2081.5,294.4 L2083.2,292.6 L2085.0,292.5 L2086.7,294.1 L2088.8,282.9 L2091.0,270.0 L2092.8,268.6 L2094.5,274.1 L2096.3,267.9 L2098.0,274.0 L2099.8,272.3 L2101.5,269.0 L2103.3,274.7 L2105.0,272.9 L2106.8,272.0 L2108.5,270.0 L2110.7,275.2 L2112.8,282.6 L2115.0,283.2 L2117.5,279.8 L2120.0,278.9 L2121.7,277.3 L2123.5,269.4 L2125.2,271.7 L2127.0,267.1 L2128.7,260.3 L2130.4,263.9 L2132.2,272.6 L2133.9,275.2 L2135.7,277.7 L2137.4,283.2 L2139.6,283.4 L2141.8,278.9 L2144.0,282.9 L2146.1,294.0 L2148.3,296.3 L2150.5,296.2 L2152.7,295.2 L2154.9,289.8 L2156.6,285.6 L2158.4,288.0 L2160.1,282.0 L2161.9,279.9 L2163.6,278.9 L2165.3,276.4 L2167.1,278.3 L2168.8,275.4 L2170.6,276.6 L2172.3,274.5 L2174.0,276.7 L2175.8,280.0 L2177.5,284.6 L2179.3,289.2 L2181.0,294.1 L2183.2,286.5 L2185.4,281.1 L2187.6,276.7 L2189.8,266.5 L2191.9,260.8 L2194.1,258.2 L2196.3,265.9 L2198.5,279.9 L2200.7,287.6 L2202.9,294.5 L2205.0,299.1 L2207.2,300.7 L2209.4,300.2 L2211.6,292.0 L2213.3,293.8 L2215.1,284.1 L2216.8,286.8 L2218.6,284.5 L2220.3,281.0 L2222.5,284.3 L2224.6,286.5 L2226.8,294.1 L2229.0,306.3 L2231.2,313.7 L2233.4,313.0 L2235.5,310.2 L2237.7,307.2 L2239.9,318.6 L2242.2,333.4 L2244.1,340.3 L2246.0,340.8 L2248.4,352.1 L2250.9,366.7 L2253.0,363.2 L2255.2,352.0 L2257.3,346.4 L2259.5,346.3 L2261.7,340.5 L2263.9,339.9 L2266.1,346.2 L2268.2,350.8 L2270.4,346.4 L2272.6,347.0 L2274.8,342.1 L2276.5,343.1 L2278.3,353.7 L2280.0,353.5 L2281.8,361.4 L2283.5,363.9 L2285.2,364.5 L2287.0,362.7 L2288.7,357.4 L2290.5,360.0 L2292.2,357.3 L2294.0,358.1 L2295.7,358.6 L2297.5,358.4 L2299.2,357.4 L2301.0,355.2 L2303.2,346.3 L2305.3,341.4 L2307.5,339.9 L2309.7,339.9 L2311.8,346.4 L2314.0,333.7 L2316.2,329.0 L2317.9,329.5 L2319.7,335.6 L2321.4,340.7 L2323.2,343.5 L2324.9,350.8 L2326.9,352.6 L2328.8,358.1 L2330.7,353.1 L2332.5,351.9 L2334.9,371.1 L2337.4,391.5 L2339.2,397.2 L2341.1,398.9 L2343.6,452.0 L2344.8,418.7 L2346.7,418.4 L2348.6,421.1 L2350.4,426.0 L2352.3,423.6 L2354.2,424.5 L2356.0,431.0 L2357.8,433.6 L2359.7,431.0 L2361.6,438.2 L2363.4,438.4 L2365.9,442.2 L2368.3,433.5 L2370.2,436.4 L2372.0,434.7" fill="none" stroke="#121117" stroke-width="5.5" stroke-linejoin="round" stroke-linecap="round"/>
<path d="M29.8,841.5 L32.7,810.6 L34.5,805.9 L36.3,796.0 L38.1,800.1 L40.0,811.4 L41.8,817.6 L43.6,821.5 L45.4,809.8 L47.2,795.7 L49.0,781.5 L50.8,780.5 L52.7,785.4 L54.5,788.8 L56.3,798.1 L58.2,796.8 L60.0,805.0 L61.8,798.3 L63.6,792.3 L65.4,785.8 L67.2,781.5 L69.0,758.9 L70.8,734.0 L72.6,736.4 L74.5,729.0 L76.3,730.7 L78.2,715.8 L80.0,698.0 L81.8,689.1 L83.6,687.5 L85.4,673.2 L87.2,669.0 L89.0,653.3 L90.8,636.0 L93.0,606.5 L95.2,576.0 L97.6,601.5 L99.9,625.0 L101.7,605.0 L103.5,587.0 L105.2,600.8 L107.0,611.0 L108.9,631.6 L110.8,650.7 L113.2,647.7 L115.5,640.0 L117.3,646.9 L119.2,658.0 L121.3,640.1 L123.5,625.0 L125.3,614.3 L127.2,605.1 L129.0,594.8 L130.8,589.0 L132.6,562.7 L134.4,538.0 L136.2,535.4 L138.1,532.1 L139.9,524.9 L141.7,523.5 L143.9,506.1 L146.0,493.3 L148.2,476.0 L150.4,496.9 L152.6,520.0 L154.8,533.3 L157.0,545.0 L159.3,534.2 L161.7,520.0 L163.5,508.2 L165.3,499.0 L167.1,488.6 L169.0,478.0 L170.8,470.8 L172.6,460.0 L174.4,469.7 L176.2,476.8 L178.0,483.6 L179.8,475.5 L181.7,472.7 L183.5,485.5 L185.2,496.7 L187.0,507.0 L188.8,496.3 L190.7,489.8 L192.6,479.1 L194.4,469.0 L196.2,473.7 L198.0,472.9 L199.8,472.7 L201.7,481.1 L203.5,481.8 L205.6,476.9 L207.7,467.1 L209.7,454.6 L211.8,447.0 L213.9,457.3 L215.9,472.9 L218.0,483.6 L219.8,491.0 L221.6,500.9 L223.4,509.3 L225.2,520.0 L227.0,506.1 L228.9,492.4 L230.7,476.0 L232.5,480.5 L234.3,489.8 L236.1,494.5 L237.9,487.7 L239.8,478.5 L241.6,469.0 L243.8,493.6 L246.0,516.3 L248.0,529.4 L250.1,539.5 L252.1,555.3 L254.2,565.0 L256.2,578.8 L257.6,616.6 L259.8,601.6 L262.0,587.6 L264.1,604.7 L266.3,618.1 L268.3,612.8 L270.2,602.5 L272.2,590.5 L274.1,605.1 L276.1,614.6 L278.0,629.7 L280.9,602.1 L283.0,588.5 L285.2,577.4 L287.1,586.7 L289.1,601.2 L291.0,610.8 L293.2,626.4 L295.4,645.7 L297.2,640.3 L299.0,625.4 L300.9,624.0 L302.7,612.3 L304.9,615.5 L307.0,623.9 L309.2,623.7 L311.4,619.5 L313.3,620.7 L315.3,624.5 L317.2,631.2 L318.9,630.8 L320.7,639.6 L322.4,638.1 L324.2,647.5 L325.9,647.2 L328.8,664.6 L331.0,653.9 L333.2,639.9 L335.0,620.4 L336.9,602.8 L338.7,586.6 L340.5,567.2 L342.4,570.7 L344.4,580.9 L346.3,589.0 L348.2,574.4 L350.2,562.2 L352.1,549.8 L353.8,543.4 L355.6,546.5 L357.3,536.4 L359.1,533.6 L360.8,532.3 L363.0,535.9 L365.2,546.9 L367.4,534.8 L369.5,520.7 L371.5,520.9 L373.6,522.4 L375.6,523.3 L377.7,532.7 L379.7,530.9 L380.0,530.1 L381.7,524.9 L383.4,518.7 L385.2,512.6 L386.9,503.9 L388.6,515.4 L390.4,522.9 L392.1,536.1 L393.8,545.3 L395.5,542.1 L397.2,538.0 L399.0,530.3 L400.7,528.8 L402.8,553.9 L404.8,575.7 L406.9,563.9 L409.0,550.8 L410.8,558.6 L412.7,563.1 L414.5,571.6 L416.3,556.4 L418.2,541.0 L420.0,527.4 L422.1,511.6 L424.2,492.9 L425.9,485.6 L427.6,487.4 L429.4,481.1 L431.1,479.0 L433.1,467.0 L435.2,459.7 L437.0,451.0 L438.9,443.1 L440.7,437.6 L442.8,447.4 L444.9,459.7 L446.9,468.5 L449.0,470.8 L451.8,451.4 L453.9,449.8 L456.0,455.9 L458.0,453.5 L460.1,458.3 L462.1,444.1 L464.2,432.1 L465.9,431.1 L467.6,440.2 L469.4,437.0 L471.1,443.1 L473.2,455.3 L475.3,465.2 L477.1,468.3 L479.0,477.8 L480.8,479.0 L482.6,481.4 L484.5,486.4 L486.3,495.6 L488.4,482.0 L490.4,476.3 L492.3,490.8 L494.1,500.2 L496.0,514.9 L497.7,521.0 L499.4,525.4 L501.2,530.6 L502.9,531.5 L504.9,532.3 L507.0,536.0 L509.1,535.3 L511.1,538.4 L513.2,535.2 L515.2,526.6 L517.3,521.9 L519.4,512.2 L521.5,509.9 L523.6,513.6 L525.7,525.1 L527.7,534.3 L530.0,529.0 L531.8,540.4 L533.7,551.7 L535.5,564.9 L537.2,565.6 L539.0,562.5 L540.7,555.0 L542.4,555.2 L544.1,559.3 L545.8,555.7 L547.6,557.9 L549.3,563.5 L551.2,579.8 L553.0,599.2 L554.9,616.0 L557.0,606.7 L559.0,602.2 L561.1,601.0 L563.1,595.6 L565.2,599.3 L567.3,593.9 L570.0,569.0 L572.1,558.4 L574.2,552.5 L576.0,555.8 L577.9,555.0 L579.7,559.4 L581.8,559.0 L583.8,551.1 L585.5,563.7 L587.2,572.8 L589.0,583.5 L590.7,596.7 L592.8,594.4 L594.9,588.4 L596.6,580.8 L598.3,571.1 L600.1,561.0 L601.8,552.5 L603.6,564.2 L605.5,576.5 L607.3,589.8 L609.4,580.1 L611.5,567.7 L613.5,583.1 L615.6,595.3 L617.5,587.1 L619.5,585.1 L621.4,580.1 L623.4,570.0 L625.3,566.3 L627.2,560.4 L629.1,554.8 L631.1,547.3 L633.0,534.8 L634.9,530.4 L637.7,540.0 L639.5,540.6 L641.4,534.8 L643.2,537.3 L646.0,558.0 L647.8,567.6 L649.7,569.9 L651.5,581.5 L653.6,575.1 L655.6,575.4 L657.7,571.1 L659.8,571.8 L661.9,577.7 L664.0,583.6 L666.0,585.1 L668.1,591.1 L670.0,592.4 L671.9,589.2 L673.9,589.8 L675.8,583.3 L677.7,582.8 L679.1,596.7 L681.9,610.5 L684.0,642.5 L686.0,671.2 L687.7,665.5 L689.5,664.7 L691.2,663.9 L692.9,660.2 L694.7,666.8 L696.6,667.2 L698.4,672.6 L700.1,671.8 L701.8,670.0 L703.6,675.8 L705.3,675.4 L707.2,667.2 L709.0,656.8 L710.9,645.0 L712.7,648.2 L714.6,658.2 L716.4,661.6 L719.2,650.5 L721.9,658.8 L723.7,688.2 L725.4,720.2 L727.2,748.2 L729.0,763.9 L730.9,778.3 L732.7,791.8 L734.5,783.0 L736.3,773.4 L738.1,763.5 L739.9,766.6 L741.8,780.1 L743.6,783.0 L745.8,784.3 L748.0,789.7 L749.7,785.6 L751.5,773.2 L753.2,766.4 L755.0,760.3 L756.7,757.0 L758.9,773.3 L761.0,787.5 L762.8,774.8 L764.7,772.6 L766.5,758.2 L768.3,752.2 L770.2,739.8 L772.0,733.0 L774.2,739.7 L776.3,747.5 L778.5,759.0 L780.6,741.9 L782.8,728.6 L784.6,728.5 L786.3,734.7 L788.1,731.8 L789.8,738.4 L791.6,737.3 L793.4,731.5 L795.2,733.1 L797.0,726.5 L798.9,725.0 L800.7,726.0 L802.5,722.0 L804.7,735.6 L806.8,749.8 L809.0,761.0 L810.7,766.1 L812.5,763.7 L814.2,771.9 L816.0,770.7 L817.7,774.4 L819.6,780.1 L821.4,783.1 L823.3,779.5 L825.2,786.7 L827.1,787.8 L828.9,787.2 L830.8,791.8 L833.0,777.9 L835.1,760.4 L837.3,746.0 L839.5,763.7 L841.7,778.8 L843.9,788.4 L846.0,791.0 L848.2,798.4 L850.0,797.2 L851.7,790.8 L853.5,788.2 L855.2,790.6 L857.0,787.5 L859.2,780.8 L861.3,778.0 L863.5,778.8 L865.3,778.3 L867.1,784.0 L869.0,780.5 L870.8,788.4 L872.6,784.5 L874.4,789.7 L876.3,790.6 L878.1,786.8 L880.0,787.8 L881.9,787.2 L883.8,791.1 L885.6,786.2 L887.5,787.5 L889.6,779.8 L891.8,767.9 L893.6,764.3 L895.4,769.5 L897.2,763.0 L899.1,759.8 L900.9,759.6 L902.7,761.3 L904.9,787.2 L907.0,811.5 L908.2,842.0 L910.4,830.6 L912.5,824.5 L914.4,831.7 L916.4,831.8 L918.3,833.7 L920.2,842.0 L922.0,835.8 L923.8,835.9 L925.6,836.5 L927.4,832.9 L929.2,828.2 L931.0,826.7 L932.8,822.9 L934.5,822.2 L936.3,826.5 L938.0,825.2 L939.8,822.4 L941.5,823.7 L943.3,819.2 L945.0,818.7 L946.8,812.2 L948.5,811.5 L950.3,819.0 L952.2,821.2 L954.0,829.0 L955.9,832.4 L957.8,825.3 L959.7,831.0 L961.6,826.7 L963.4,825.1 L965.2,823.9 L967.0,828.9 L968.9,830.6 L970.7,826.9 L972.5,829.0 L974.2,828.3 L976.0,828.4 L977.7,821.9 L979.5,818.9 L981.2,820.2 L984.4,800.0 L986.7,763.3 L988.5,760.8 L990.2,760.9 L993.1,767.9 L994.9,740.0 L997.2,735.7 L999.5,737.7 L1001.2,736.8 L1003.0,731.0 L1004.8,735.4 L1006.5,729.5 L1008.9,727.9 L1011.2,730.7 L1013.5,735.4 L1015.8,736.5 L1017.5,745.4 L1019.3,756.3 L1021.2,758.4 L1023.2,755.1 L1025.1,751.6 L1027.4,721.4 L1029.8,720.5 L1032.1,715.6 L1034.4,718.8 L1036.7,726.0 L1039.1,726.9 L1041.4,733.0 L1043.7,735.1 L1046.0,742.3 L1047.8,747.3 L1049.5,747.0 L1051.8,763.1 L1054.2,776.0 L1056.5,767.9 L1058.8,719.1 L1060.5,707.2 L1062.3,693.5 L1064.7,690.2 L1067.0,681.9 L1068.9,685.9 L1070.7,681.8 L1072.6,687.0 L1074.4,684.1 L1076.3,688.8 L1078.6,681.9 L1080.9,677.2 L1083.0,674.7 L1085.0,676.7 L1087.0,683.9 L1089.1,681.9 L1091.0,675.7 L1093.0,669.6 L1094.9,658.6 L1096.8,661.8 L1098.8,656.7 L1100.7,658.6 L1103.0,674.0 L1105.3,686.5 L1107.7,681.1 L1110.0,680.7 L1112.2,667.3 L1114.7,676.9 L1117.2,680.4 L1119.2,672.8 L1121.2,669.4 L1124.2,676.4 L1126.2,685.4 L1128.3,685.1 L1130.3,694.5 L1132.8,697.1 L1135.3,692.5 L1137.1,690.2 L1138.8,696.6 L1140.6,691.9 L1142.4,694.5 L1145.4,699.6 L1147.9,691.8 L1150.4,681.4 L1152.5,681.0 L1154.5,688.5 L1157.0,698.4 L1159.5,705.6 L1161.5,690.5 L1164.0,699.7 L1166.6,704.6 L1168.6,704.7 L1170.6,712.7 L1172.6,707.4 L1174.6,698.6 L1177.6,696.6 L1180.7,656.3 L1183.2,652.4 L1185.7,654.3 L1187.5,651.2 L1189.2,648.5 L1191.0,645.3 L1192.7,647.2 L1194.8,651.6 L1196.8,658.3 L1198.8,667.3 L1200.8,673.4 L1203.8,660.3 L1205.6,657.0 L1207.3,658.3 L1209.1,657.9 L1210.9,659.3 L1212.9,664.8 L1214.9,666.4 L1216.9,663.8 L1218.9,668.4 L1220.7,665.0 L1222.5,667.0 L1224.2,673.0 L1226.0,669.4 L1227.8,668.3 L1229.6,666.4 L1231.4,668.6 L1233.2,673.5 L1235.0,671.4 L1238.1,665.3 L1240.1,670.0 L1242.1,668.4 L1244.1,669.9 L1246.1,668.4 L1248.1,700.6 L1250.1,703.9 L1252.2,697.9 L1254.2,699.3 L1256.2,700.6 L1258.2,693.6 L1260.2,692.3 L1262.2,684.5 L1265.3,703.6 L1267.3,699.3 L1269.3,700.4 L1271.3,702.6 L1273.3,708.4 L1275.3,704.2 L1277.4,706.7 L1279.4,712.7 L1281.4,697.6 L1283.2,694.2 L1284.9,692.9 L1286.7,694.6 L1288.4,690.5 L1290.2,690.3 L1292.0,697.3 L1293.7,695.9 L1295.5,700.6 L1297.2,697.7 L1299.0,691.1 L1300.8,691.0 L1302.5,684.5 L1304.5,688.3 L1306.6,687.0 L1308.6,685.5 L1310.3,689.5 L1312.1,693.1 L1313.8,689.3 L1315.6,694.5 L1317.3,686.7 L1319.0,679.2 L1320.7,677.4 L1322.7,679.8 L1324.7,676.4 L1326.7,671.4 L1328.7,662.3 L1329.7,630.1 L1331.8,629.1 L1333.8,625.0 L1335.7,620.4 L1337.5,616.3 L1339.4,616.4 L1341.3,615.5 L1343.2,614.8 L1345.2,608.1 L1347.1,606.4 L1349.0,602.9 L1351.0,602.0 L1352.9,601.0 L1354.8,599.1 L1356.8,603.6 L1358.7,599.1 L1360.6,602.1 L1362.6,602.1 L1364.5,601.0 L1366.5,603.1 L1368.4,601.1 L1370.3,600.7 L1372.3,598.5 L1374.2,594.8 L1376.2,595.0 L1378.3,574.2 L1380.5,554.4 L1382.2,558.5 L1383.9,555.4 L1385.6,563.6 L1387.3,560.3 L1389.0,564.9 L1390.7,566.0 L1392.6,561.0 L1394.6,565.5 L1396.5,557.5 L1398.4,556.4 L1400.4,553.5 L1402.3,554.4 L1404.2,553.4 L1406.2,553.0 L1408.2,560.1 L1410.1,561.5 L1412.0,561.8 L1414.0,560.2 L1416.0,553.2 L1418.0,547.8 L1420.1,543.8 L1422.1,545.1 L1424.1,537.0 L1425.9,548.1 L1427.8,552.9 L1429.6,560.3 L1431.4,566.0 L1433.1,572.0 L1434.9,568.1 L1436.6,577.0 L1438.4,581.6 L1440.1,580.6 L1441.8,572.8 L1443.6,569.8 L1445.3,570.0 L1447.1,560.3 L1448.8,560.2 L1450.6,561.8 L1452.3,561.3 L1454.1,553.0 L1455.8,558.2 L1457.6,554.4 L1459.3,545.8 L1461.1,535.3 L1462.8,525.8 L1464.6,515.3 L1466.3,507.9 L1468.2,510.2 L1470.2,505.7 L1472.1,512.0 L1474.0,509.0 L1476.0,508.0 L1477.9,510.8 L1480.1,493.0 L1482.2,473.9 L1484.4,454.4 L1486.2,446.2 L1488.0,443.2 L1489.8,433.9 L1491.6,428.3 L1493.3,425.5 L1495.1,417.4 L1496.8,418.2 L1498.6,409.0 L1500.3,407.9 L1502.0,418.8 L1503.8,424.5 L1505.5,437.6 L1507.3,444.0 L1509.0,454.4 L1510.8,449.4 L1512.7,434.5 L1514.5,431.9 L1516.3,419.5 L1518.1,417.8 L1519.9,421.7 L1521.8,414.6 L1523.6,416.6 L1526.5,438.4 L1528.3,434.4 L1530.2,425.8 L1532.0,418.8 L1533.8,415.2 L1535.5,420.1 L1537.2,426.2 L1538.9,434.7 L1540.6,445.3 L1542.3,451.3 L1544.0,457.3 L1545.9,453.4 L1547.9,438.2 L1549.8,434.0 L1551.8,445.0 L1553.8,452.3 L1555.9,460.4 L1557.9,467.7 L1559.9,471.9 L1562.1,459.0 L1564.3,448.6 L1566.0,450.1 L1567.8,451.5 L1569.5,454.6 L1571.3,461.3 L1573.0,460.2 L1574.7,451.0 L1576.4,446.6 L1578.1,442.1 L1579.8,433.5 L1581.5,419.9 L1583.2,416.6 L1585.1,419.7 L1586.9,423.7 L1588.8,423.0 L1590.7,421.4 L1592.6,426.3 L1594.4,422.6 L1596.3,428.3 L1598.1,422.6 L1599.9,426.1 L1601.7,418.4 L1603.5,416.6 L1605.4,417.7 L1607.2,426.0 L1609.1,424.1 L1611.0,432.1 L1612.9,430.1 L1614.7,432.3 L1616.6,437.0 L1618.3,439.6 L1620.1,443.6 L1621.8,445.9 L1623.6,456.2 L1625.3,457.3 L1627.1,453.5 L1628.9,453.4 L1630.8,451.1 L1632.6,453.0 L1634.3,456.3 L1636.1,469.1 L1637.8,473.8 L1639.6,476.5 L1641.3,483.5 L1643.3,482.3 L1645.2,481.1 L1647.2,474.8 L1649.1,465.3 L1651.1,457.7 L1653.0,449.0 L1654.9,447.5 L1656.9,437.0 L1658.8,428.3 L1660.5,425.7 L1662.3,433.2 L1664.0,428.7 L1665.8,433.5 L1667.5,431.2 L1669.2,440.4 L1670.9,453.7 L1672.6,461.4 L1674.3,475.0 L1676.0,483.8 L1677.7,495.1 L1679.6,485.1 L1681.6,473.0 L1683.5,463.1 L1685.2,468.1 L1687.0,463.3 L1688.7,466.0 L1690.5,472.8 L1692.2,471.9 L1693.9,467.6 L1695.7,458.3 L1697.4,459.8 L1699.2,452.2 L1700.9,445.7 L1703.1,456.2 L1705.3,469.0 L1707.2,471.1 L1709.2,474.3 L1711.1,485.8 L1713.0,488.9 L1715.0,489.2 L1716.9,495.1 L1718.6,487.5 L1720.4,485.3 L1722.1,480.1 L1723.9,474.5 L1725.6,466.0 L1727.4,459.4 L1729.2,461.2 L1730.9,453.3 L1732.7,449.8 L1734.5,447.8 L1736.3,445.2 L1738.0,444.4 L1739.8,437.0 L1741.6,437.0 L1743.5,446.0 L1745.5,449.3 L1747.4,460.2 L1749.2,459.2 L1750.9,460.1 L1752.7,463.7 L1754.4,461.5 L1756.2,463.1 L1758.1,452.8 L1760.1,447.4 L1762.0,442.6 L1763.9,436.3 L1765.9,435.4 L1767.8,425.3 L1769.6,425.6 L1771.4,432.4 L1773.2,433.9 L1775.0,434.0 L1776.8,429.2 L1778.7,419.4 L1780.5,419.3 L1782.3,410.8 L1784.2,414.4 L1786.2,426.0 L1788.1,428.3 L1790.3,410.6 L1792.5,396.3 L1794.7,373.5 L1796.9,352.7 L1798.6,353.5 L1800.4,347.8 L1802.1,349.8 L1803.9,348.0 L1805.6,344.0 L1807.8,331.6 L1809.9,322.2 L1812.1,333.1 L1814.3,341.0 L1816.0,337.1 L1817.8,337.2 L1819.5,333.2 L1821.3,327.8 L1823.0,326.5 L1824.9,321.8 L1826.9,326.2 L1828.8,323.6 L1830.6,317.9 L1832.3,316.8 L1834.1,307.4 L1835.8,307.0 L1837.6,301.8 L1839.5,308.0 L1841.5,314.6 L1843.4,326.5 L1845.3,325.2 L1847.3,331.3 L1849.2,330.7 L1851.1,333.0 L1853.1,335.3 L1855.0,338.1 L1857.5,332.5 L1860.0,322.5 L1862.2,316.9 L1864.4,313.7 L1866.6,327.6 L1868.7,339.9 L1870.9,329.0 L1873.1,322.4 L1875.3,315.9 L1877.5,314.6 L1879.6,309.2 L1881.8,302.8 L1884.0,303.5 L1886.1,305.3 L1888.3,309.4 L1890.5,309.2 L1892.7,307.2 L1894.8,312.0 L1897.0,322.5 L1899.2,321.3 L1901.4,328.6 L1903.6,329.0 L1905.4,324.9 L1907.2,325.3 L1909.0,324.0 L1910.9,329.1 L1912.7,326.1 L1914.5,326.8 L1916.7,330.3 L1918.8,331.8 L1921.0,331.2 L1923.2,348.7 L1925.4,363.9 L1927.6,351.5 L1929.8,337.7 L1933.0,359.5 L1936.3,355.2 L1939.6,385.7 L1942.8,372.6 L1944.6,373.2 L1946.3,372.0 L1948.1,366.3 L1949.8,363.5 L1951.6,363.9 L1953.4,359.0 L1955.2,356.9 L1957.0,357.3 L1958.8,362.5 L1960.7,364.1 L1962.5,370.4 L1964.7,369.0 L1966.8,374.3 L1969.0,372.6 L1970.8,382.2 L1972.7,385.5 L1974.5,394.4 L1976.3,383.8 L1978.2,374.3 L1980.0,368.2 L1981.7,364.4 L1983.4,368.8 L1985.2,369.5 L1986.9,362.1 L1988.6,363.9 L1990.8,352.4 L1993.0,337.7 L1994.8,333.8 L1996.6,337.7 L1998.5,337.9 L2000.3,335.4 L2002.1,331.4 L2003.9,331.2 L2006.1,329.9 L2008.2,333.4 L2010.4,319.3 L2012.6,307.2 L2014.3,308.5 L2016.1,308.7 L2017.8,308.8 L2019.6,309.7 L2021.3,307.2 L2023.5,303.0 L2025.7,292.7 L2027.9,289.8 L2030.1,296.9 L2032.2,295.0 L2034.4,302.8 L2036.6,305.8 L2038.8,305.0 L2041.0,304.3 L2043.1,313.9 L2045.3,313.7 L2047.1,303.4 L2049.0,302.6 L2050.8,291.9 L2052.6,298.3 L2054.4,301.8 L2056.2,302.8 L2058.0,303.7 L2059.7,310.5 L2061.5,312.3 L2063.2,314.6 L2065.0,315.9 L2067.2,307.1 L2069.3,300.7 L2071.0,298.8 L2072.8,302.0 L2074.5,295.8 L2076.3,294.8 L2078.0,296.3 L2079.7,292.3 L2081.5,294.4 L2083.2,292.6 L2085.0,292.5 L2086.7,294.1 L2088.8,282.9 L2091.0,270.0 L2092.8,268.6 L2094.5,274.1 L2096.3,267.9 L2098.0,274.0 L2099.8,272.3 L2101.5,269.0 L2103.3,274.7 L2105.0,272.9 L2106.8,272.0 L2108.5,270.0 L2110.7,275.2 L2112.8,282.6 L2115.0,283.2 L2117.5,279.8 L2120.0,278.9 L2121.7,277.3 L2123.5,269.4 L2125.2,271.7 L2127.0,267.1 L2128.7,260.3 L2130.4,263.9 L2132.2,272.6 L2133.9,275.2 L2135.7,277.7 L2137.4,283.2 L2139.6,283.4 L2141.8,278.9 L2144.0,282.9 L2146.1,294.0 L2148.3,296.3 L2150.5,296.2 L2152.7,295.2 L2154.9,289.8 L2156.6,285.6 L2158.4,288.0 L2160.1,282.0 L2161.9,279.9 L2163.6,278.9 L2165.3,276.4 L2167.1,278.3 L2168.8,275.4 L2170.6,276.6 L2172.3,274.5 L2174.0,276.7 L2175.8,280.0 L2177.5,284.6 L2179.3,289.2 L2181.0,294.1 L2183.2,286.5 L2185.4,281.1 L2187.6,276.7 L2189.8,266.5 L2191.9,260.8 L2194.1,258.2 L2196.3,265.9 L2198.5,279.9 L2200.7,287.6 L2202.9,294.5 L2205.0,299.1 L2207.2,300.7 L2209.4,300.2 L2211.6,292.0 L2213.3,293.8 L2215.1,284.1 L2216.8,286.8 L2218.6,284.5 L2220.3,281.0 L2222.5,284.3 L2224.6,286.5 L2226.8,294.1 L2229.0,306.3 L2231.2,313.7 L2233.4,313.0 L2235.5,310.2 L2237.7,307.2 L2239.9,318.6 L2242.2,333.4 L2244.1,340.3 L2246.0,340.8 L2248.4,352.1 L2250.9,366.7 L2253.0,363.2 L2255.2,352.0 L2257.3,346.4 L2259.5,346.3 L2261.7,340.5 L2263.9,339.9 L2266.1,346.2 L2268.2,350.8 L2270.4,346.4 L2272.6,347.0 L2274.8,342.1 L2276.5,343.1 L2278.3,353.7 L2280.0,353.5 L2281.8,361.4 L2283.5,363.9 L2285.2,364.5 L2287.0,362.7 L2288.7,357.4 L2290.5,360.0 L2292.2,357.3 L2294.0,358.1 L2295.7,358.6 L2297.5,358.4 L2299.2,357.4 L2301.0,355.2 L2303.2,346.3 L2305.3,341.4 L2307.5,339.9 L2309.7,339.9 L2311.8,346.4 L2314.0,333.7 L2316.2,329.0 L2317.9,329.5 L2319.7,335.6 L2321.4,340.7 L2323.2,343.5 L2324.9,350.8 L2326.9,352.6 L2328.8,358.1 L2330.7,353.1 L2332.5,351.9 L2334.9,371.1 L2337.4,391.5 L2339.2,397.2 L2341.1,398.9 L2343.6,452.0 L2344.8,418.7 L2346.7,418.4 L2348.6,421.1 L2350.4,426.0 L2352.3,423.6 L2354.2,424.5 L2356.0,431.0 L2357.8,433.6 L2359.7,431.0 L2361.6,438.2 L2363.4,438.4 L2365.9,442.2 L2368.3,433.5 L2370.2,436.4 L2372.0,434.7" fill="none" stroke="#e0e0e0" stroke-width="2.6" stroke-linejoin="round" stroke-linecap="round"/>
<ellipse cx="879" cy="791" rx="108" ry="42" transform="rotate(37 879 791)" fill="none" stroke="#c03a36" stroke-width="4"/>
<text x="722.5" y="490.8" class="ann" textLength="56" lengthAdjust="spacingAndGlyphs">~2</text>
<text x="797.8" y="490.8" class="ann" textLength="88.7" lengthAdjust="spacingAndGlyphs">year</text>
<text x="905.8" y="490.8" class="ann" textLength="163.6" lengthAdjust="spacingAndGlyphs">average</text>
<text x="1092.8" y="490.8" class="ann" textLength="184.5" lengthAdjust="spacingAndGlyphs">purchase</text>
<text x="1299.6" y="490.8" class="ann" textLength="105" lengthAdjust="spacingAndGlyphs">price</text>
<text x="2136.6" y="1361" class="copy" textLength="317.4" lengthAdjust="spacingAndGlyphs">© CryptoQuant. All rights reserved</text>
</svg>
</body></html>
